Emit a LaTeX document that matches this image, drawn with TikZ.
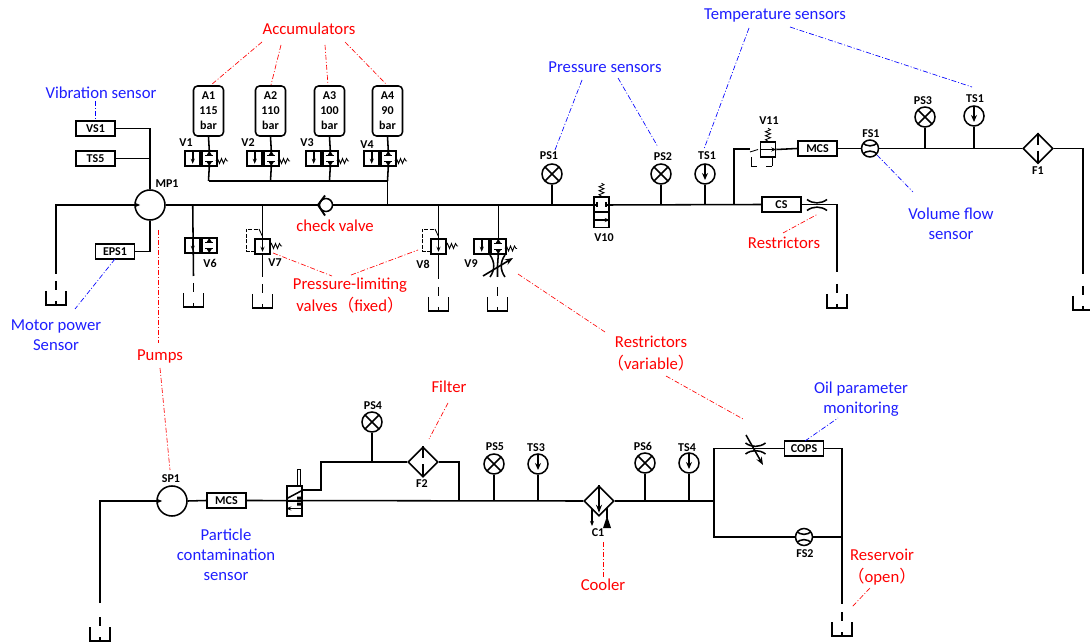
\documentclass[tikz,border=0pt]{standalone}
\usepackage{fontspec}
\setmainfont{Carlito}
\newfontfamily\cjk{Noto Sans CJK SC}
\usepackage{tikz}
\usetikzlibrary{arrows.meta,calc,shapes.geometric}
\definecolor{txtblue}{RGB}{30,30,255}

\tikzset{
  pipe/.style={line width=1.55pt},
  thinpipe/.style={line width=0.85pt},
  tag/.style={font=\bfseries\fontsize{12}{13}\selectfont, inner sep=0pt},
  redtxt/.style={text=red, align=center, inner sep=0pt, font=\fontsize{16.7}{22}\selectfont},
  bluetxt/.style={text=txtblue, align=center, inner sep=0pt, font=\fontsize{16.7}{20}\selectfont},
  redlead/.style={red, line width=0.65pt, dash pattern=on 5pt off 2pt on 1pt off 2pt},
  bluelead/.style={blue, line width=0.65pt, dash pattern=on 5pt off 2pt on 1pt off 2pt},
  sensorbox/.style={draw, pipe, rectangle, minimum width=39pt, minimum height=15pt, inner sep=0pt, font=\bfseries\fontsize{12}{13}\selectfont},
  accu/.style={draw, pipe, rectangle, rounded corners=4pt, minimum width=30pt, minimum height=50pt, inner sep=0pt, align=center, font=\bfseries\fontsize{12}{15}\selectfont},
  valvecell/.style={draw, pipe, rectangle, minimum width=15pt, minimum height=15pt, inner sep=0pt},
  pump/.style={draw, pipe, circle, minimum size=30pt, inner sep=0pt},
  gauge/.style={draw, pipe, circle, minimum size=20pt, inner sep=0pt,
    path picture={\draw[pipe] (path picture bounding box.north west) -- (path picture bounding box.south east)
      (path picture bounding box.north east) -- (path picture bounding box.south west);}},
  thermo/.style={draw, pipe, circle, minimum size=20pt, inner sep=0pt,
    path picture={\draw[pipe, -{Stealth[length=7pt,width=6pt]}] (path picture bounding box.north) -- ([yshift=4pt]path picture bounding box.south);}},
  flowmeter/.style={draw, pipe, circle, minimum size=17pt, inner sep=0pt,
    path picture={\draw[pipe, shift={(path picture bounding box.center)}]
      (-8,-6) .. controls (-3,-1.5) and (3,-1.5) .. (8,-6)
      (-8,6) .. controls (-3,1.5) and (3,1.5) .. (8,6);}},
  filterbox/.style={draw, pipe, diamond, aspect=1, minimum size=30pt, inner sep=0pt},
  smallarrow/.style={pipe, -{Stealth[length=5pt,width=4pt]}},
  tankpic/.pic={
    \draw[pipe] (-10,-14) -- (-10,0) -- (10,0) -- (10,-14);
    \draw[pipe] (0,-4) -- (0,0);
    \draw[pipe] (0,-24) -- (0,-15);
  },
  springh/.pic={
    \draw[thinpipe] (0,0) -- (1.5,-2.5) -- (3.5,2.5) -- (5.5,-2.5) -- (7.5,2.5) -- (9.5,-2.5) -- (11,0) -- (12,0);
  },
  springv/.pic={
    \draw[thinpipe] (0,0) -- (-2.5,-1.5) -- (2.5,-3.5) -- (-2.5,-5.5) -- (2.5,-7.5) -- (-2.5,-9.5) -- (2.5,-11.5) -- (0,-13);
  },
  twocell/.pic={
    \node[valvecell, anchor=east] (-l) at (0,0) {};
    \node[valvecell, anchor=west] (-r) at (0,0) {};
    \draw[smallarrow] (-l.north) -- ([yshift=3pt]-l.south);
    \begin{scope}[shift={(-r.center)}]
      \fill (-2.5,-3.5) -- (2.5,-3.5) -- (0,-7.5) -- cycle;
      \fill (-2.5,3.5) -- (2.5,3.5) -- (0,7.5) -- cycle;
      \draw[thinpipe] (-4,-3) -- (4,-3) (-4,3) -- (4,3);
    \end{scope}
  },
  pilot/.pic={
    \draw[thinpipe, dash pattern=on 4pt off 1.5pt] (-7.5,4.5) -- (-16.5,4.5) -- (-16.5,-17.5) -- (-3.5,-17.5);
    \draw[thinpipe] (-3.5,-17.5) -- (0,-10);
  },
  choke/.pic={
    \draw[pipe] (-10,-5.5) .. controls (-4,-1) and (4,-1) .. (10,-5.5)
      (-10,5.5) .. controls (-4,1) and (4,1) .. (10,5.5);
  },
}

\begin{document}
\begin{tikzpicture}[x=1pt, y=-1pt, >=Stealth]

  %% Background
  \useasboundingbox (0,0) rectangle (1090,644);

  % Pumps
  \node[pump] (MP1) at (150,205) {};
  \node[pump] (SP1) at (172,501) {};
  \draw[smallarrow] (MP1.west) -- ++(6,0);
  \draw[smallarrow] (SP1.west) -- ++(6,0);

  % Boxes
  \foreach \nm/\txt/\x/\y in {VS1/VS1/95.5/128.5, TS5/TS5/95.5/158.5, EPS1/EPS1/115/251.5, MCSa/MCS/817.5/148.5, CS/CS/781.5/204.5, MCSb/MCS/226.5/500.5, COPS/COPS/804/448.5}
    \node[sensorbox] (\nm) at (\x,\y) {\txt};

  % Gauges and flow meters
  \foreach \nm/\x/\y in {PS1/552/174, PS2/661/174, PS3/925/117, PS4/372/422, PS5/494/464, PS6/645/463}
    \node[gauge] (\nm) at (\x,\y) {};
  \foreach \nm/\x/\y in {TSa/705/174, TSb/974/116, TS3/538/464, TS4/689/463}
    \node[thermo] (\nm) at (\x,\y) {};
  \node[flowmeter] (FS1) at (870,148.5) {};
  \node[flowmeter] (FS2) at (804,537) {};

  % Filters and cooler
  \node[filterbox] (F1) at (1038,148.5) {};
  \node[filterbox] (F2) at (423,462) {};
  \node[filterbox] (C1) at (599,501) {};
  \draw[pipe, dash pattern=on 12pt off 6pt] (F1.north) -- (F1.south);
  \draw[pipe, dash pattern=on 12pt off 6pt] (F2.north) -- (F2.south);
  \draw[pipe, -{Stealth[length=8pt,width=6pt]}] (C1.north) -- ([yshift=4pt]C1.south);
  \coordinate (C1a) at (592,509);
  \coordinate (C1b) at (607,508);
  \draw[smallarrow] (C1a) -- ++(0,17);
  \draw[pipe] (C1b) -- ++(0,10);
  \fill (607,516) -- (603,528) -- (611,528) -- cycle;

  % Accumulators with their valves
  \foreach \i/\x/\pr in {1/201/115, 2/263/110, 3/322/100, 4/380/90}{
    \node[accu] (A\i) at ({\x+7.5},111) {A\i\\\pr\\bar};
    \pic (V\i) at (\x,158.5) {twocell};
    \pic at ({\x+15},161) {springh};
    \draw[pipe] (A\i.south) -- (V\i-r.north);
    \coordinate (B\i) at ({\x+7.5},181);
    \draw[pipe] (V\i-r.south) -- (B\i);
  }
  \draw[pipe] (B1) -- (B4);
  \coordinate (Jbus) at (B4 |- MP1);
  \draw[pipe] (B4) -- (Jbus);

  % Valves below the main line
  \pic (V6) at (201,245.5) {twocell};
  \node[valvecell] (V7) at (262.5,246.5) {};
  \node[valvecell] (V8) at (438.5,246.5) {};
  \pic at (V7) {pilot};
  \pic at (V8) {pilot};
  \pic at (270,246) {springh};
  \pic at (446,246) {springh};
  \pic (V9) at (490,246.5) {twocell};
  \pic at (505,248.5) {springh};

  % Variable restrictor under V9
  \coordinate (Rv) at (497.5,266);
  \draw[pipe] (490,255) .. controls (495,262) and (495,270) .. (490,277)
    (505,255) .. controls (500,262) and (500,270) .. (505,277);
  \draw[pipe, -{Stealth[length=8pt,width=6pt]}] (483,276) -- (513,258);

  % V10
  \node[valvecell] (V10a) at (601.5,204.5) {};
  \node[valvecell] (V10b) at (601.5,220) {};
  \pic at (V10a.north) {springv};
  \draw[smallarrow] (V10b.west) -- (V10b.east);
  \coordinate (V10l) at (597,205);
  \coordinate (V10r) at (606,205);
  \draw[pipe] (597,202.5) -- (597,207.5) (606,202.5) -- (606,207.5);

  % V11
  \node[valvecell] (V11) at (768,149.5) {};
  \pic at (V11.north) {springv};
  \draw[smallarrow] (V11.west) -- (V11.east);
  \draw[thinpipe, dash pattern=on 6pt off 0pt] (751,157) -- (751,166) -- (757,166) (766,166) -- (772,166) -- (772,157);
  \coordinate (V11in) at (750,149);
  \draw[thinpipe] (750,152) -- (758,149.5);

  % Restrictors
  \pic at (817,205) {choke};
  \pic at (755.5,448.5) {choke};
  \draw[pipe, -{Stealth[length=8pt,width=6pt]}] (746,435) -- (763,465);

  % Bottom valve
  \node[valvecell] (SVa) at (294.5,493.5) {};
  \node[valvecell] (SVb) at (294.5,508.5) {};
  \draw[thinpipe] (297,469) rectangle (300,486);
  \draw[pipe] (287,498.5) -- (302,490.5);
  \fill (297,496.5) rectangle (301,499.5) (297,502.5) rectangle (301,505.5);
  \draw[smallarrow] (SVb.east) -- (SVb.west);
  \coordinate (SVout) at (302,490);

  % Check valve
  \node[draw, pipe, circle, minimum size=13pt, inner sep=0pt] (CK) at (326,205) {};
  \draw[line width=1.9pt, miter limit=4] (325,195.5) -- (318,205) -- (325,215.5);

  % Tanks and the free ends of their lines
  \foreach \nm/\x/\y/\b in {Ta/56/274/305, Tb/193.5/276/307, Tc/262.5/277/308, Td/438.5/279/311, Te/497.5/277/311, Tf/837/272/308, Tg/1083/274/310, Th/100/603/641, Ti/842/604/636}{
    \coordinate (\nm) at (\x,\y);
    \pic at (\x,\b) {tankpic};
  }

  % Upper pipes
  \draw[pipe] (Ta) |- (MP1.west);
  \draw[pipe] (MP1.east) -- (CK.west);
  \draw[pipe] (CK.east) -- (V10l);
  \draw[pipe] (V10r) -- (CS.west);
  \coordinate (Ja) at (734,204.5);
  \draw[pipe] (Ja) |- (V11in);
  \draw[pipe] (V11.east) -- (MCSa.west);
  \draw[pipe] (MCSa.east) -- (FS1.west);
  \draw[pipe] (FS1.east) -- (F1.west);
  \draw[pipe] (F1.east) -| (Tg);
  \draw[pipe] (CS.east) -| (Tf);
  \draw[pipe] (VS1.east) -| (MP1.north);
  \draw[pipe] (TS5.east) -- (TS5.east -| MP1.north);
  \draw[pipe] (EPS1.east) -| (MP1.south);
  \draw[pipe] (V6-l.north |- MP1) -- (Tb);
  \draw[pipe] (V7.north |- MP1) -- (V7.north);
  \draw[pipe] (V7.south) -- (Tc);
  \draw[smallarrow] (V7.north) -- ([yshift=3pt]V7.south);
  \draw[pipe] (V8.north |- MP1) -- (V8.north);
  \draw[pipe] (V8.south) -- (Td);
  \draw[smallarrow] (V8.north) -- ([yshift=3pt]V8.south);
  \draw[pipe] (V9-r.north |- MP1) -- (V9-r.north);
  \draw[pipe] (V9-r.south) -- (Rv) -- (Te);
  \foreach \s in {PS1,PS2,TSa}
    \draw[pipe] (\s.south) -- (\s.south |- MP1);
  \foreach \s in {PS3,TSb}
    \draw[pipe] (\s.south) -- (\s.south |- FS1);

  % Lower pipes
  \draw[pipe] (Th) |- (SP1.west);
  \draw[pipe] (SP1.east) -- (MCSb.west);
  \draw[pipe] (MCSb.east) -- (C1.west);
  \coordinate (Jb) at (459,501);
  \coordinate (Jc) at (714,501);
  \draw[pipe] (SVout) -- ++(19,0) |- (F2.west);
  \draw[pipe] (F2.east) -| (Jb);
  \draw[pipe] (PS4.south) -- (PS4.south |- F2);
  \foreach \s in {PS5,TS3,PS6,TS4}
    \draw[pipe] (\s.south) -- (\s.south |- Jc);
  \draw[pipe] (C1.east) -- (Jc);
  \draw[pipe] (Jc) |- (COPS.west);
  \draw[pipe] (Jc) |- (FS2.west);
  \draw[pipe] (COPS.east) -| (Ti);
  \draw[pipe] (FS2.east) -- (FS2.east -| Ti);

  % Black labels
  \foreach \nm/\txt/\x/\y in {tMP1/MP1/167/184, tV1/V1/186/143, tV2/V2/248/143, tV3/V3/307/143, tV4/V4/367/145, tV6/V6/210/263, tV7/V7/275/263, tV8/V8/423/264, tV9/V9/471/264, tV10/V10/604/238, tV11/V11/769/121, tPS1/PS1/549/156, tPS2/PS2/663/157, tTSa/TS1/707/156, tPS3/PS3/923/101, tTSb/TS1/975/99, tFS1/FS1/871/134, tF1/F1/1038/171, tSP1/SP1/171/479, tPS4/PS4/373/406, tF2/F2/422/484, tPS5/PS5/495/447, tTS3/TS3/536/448, tPS6/PS6/643/446, tTS4/TS4/687/448, tC1/C1/598/533, tFS2/FS2/805/554}
    \node[tag] (\nm) at (\x,\y) {\txt};

  % Red texts
  \node[redtxt] (tAcc) at (309,29) {Accumulators};
  \node[redtxt] (tCheck) at (335,226) {check valve};
  \node[redtxt] (tPlv) at (350,296) {Pressure-limiting\\valves{\cjk（}fixed{\cjk）}};
  \node[redtxt] (tRes) at (784,243) {Restrictors};
  \node[redtxt] (tPumps) at (160,356) {Pumps};
  \node[redtxt] (tVar) at (651,354) {Restrictors\\{\cjk（}variable{\cjk）}};
  \node[redtxt] (tFilter) at (449,387) {Filter};
  \node[redtxt] (tCooler) at (603,585) {Cooler};
  \node[redtxt] (tOpen) at (882,567) {Reservoir\\{\cjk（}open{\cjk）}};

  % Blue texts
  \node[bluetxt] (tVib) at (101,93) {Vibration sensor};
  \node[bluetxt] (tMot) at (56,335) {Motor power\\Sensor};
  \node[bluetxt] (tPre) at (605,67) {Pressure sensors};
  \node[bluetxt] (tTem) at (775,15) {Temperature sensors};
  \node[bluetxt] (tVol) at (951,224) {Volume flow\\sensor};
  \node[bluetxt] (tPar) at (226,555) {Particle\\contamination\\sensor};
  \node[bluetxt] (tOil) at (861,399) {Oil parameter\\monitoring};

  % Red leaders
  \foreach \nm/\xa/\ya/\xb/\yb in {a/262/42/211/85, b/281/45/271/85, c/325/45/328/85, d/345/42/386/84, e/273/253/332/276, f/351/275/418/250, g/783/233/818/214, h/158/230/158/343, i/160/368/170/470, j/518/274/605/332, k/666/376/743/419, l/448/403/429/439, m/603/542/603/578, n/870/588/852/607}{
    \coordinate (ra\nm) at (\xa,\ya);
    \coordinate (rb\nm) at (\xb,\yb);
    \draw[redlead] (ra\nm) -- (rb\nm);
  }

  % Blue leaders
  \foreach \nm/\xa/\ya/\xb/\yb in {a/95/101/95/121, b/115/259/75/309, c/582/80/555/150, d/618/78/658/147, e/749/28/704/149, f/790/27/972/87, g/877/155/913/192, h/805/441/838/418}{
    \coordinate (ba\nm) at (\xa,\ya);
    \coordinate (bb\nm) at (\xb,\yb);
    \draw[bluelead] (ba\nm) -- (bb\nm);
  }

\end{tikzpicture}
\end{document}
